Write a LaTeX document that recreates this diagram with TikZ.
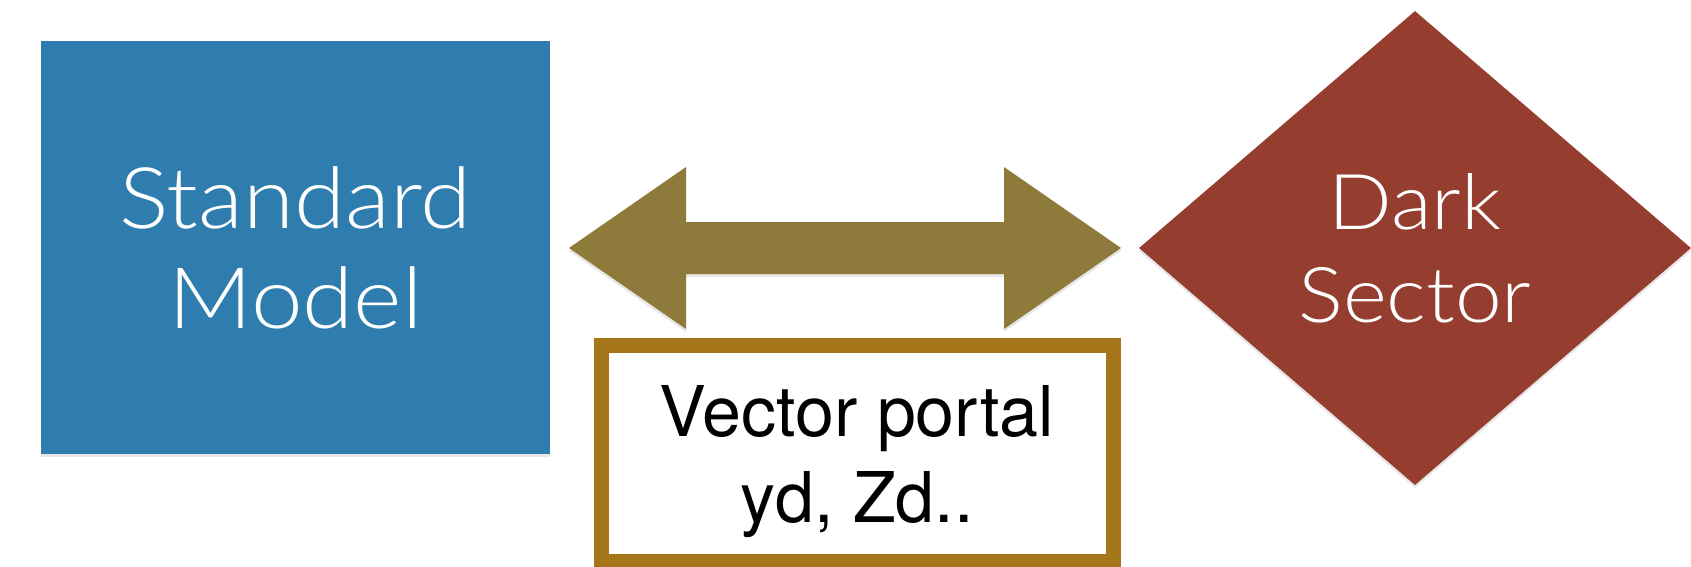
\documentclass[tikz,border=0pt]{standalone}
\usepackage{fontspec}
\setmainfont{TeX Gyre Heros}
\newfontfamily\lightfont{Lato Light}[FakeStretch=1.09]
\usetikzlibrary{shapes.geometric,shadows}
\definecolor{smblue}{RGB}{47,125,175}
\definecolor{arrowc}{RGB}{142,122,58}
\definecolor{boxc}{RGB}{165,117,26}
\definecolor{dsred}{RGB}{149,61,47}
\tikzset{
  shade/.style={drop shadow={opacity=0.2,shadow xshift=0pt,shadow yshift=-3pt}},
  sector/.style={text=white,inner sep=0pt,align=center,shade},
  smbox/.style={sector,fill=smblue,minimum width=509pt,minimum height=413pt,
    font=\lightfont\fontsize{85}{100}\selectfont},
  dsbox/.style={sector,diamond,fill=dsred,minimum width=552pt,minimum height=474pt,
    font=\lightfont\fontsize{77}{93}\selectfont},
  portal/.style={fill=arrowc,shade},
  vpbox/.style={draw=boxc,line width=15pt,fill=white,minimum width=512pt,minimum height=215.5pt,
    align=center,text depth=0pt,font=\fontsize{70}{86}\selectfont}
}
\begin{document}
\begin{tikzpicture}[x=1pt,y=-1pt]
\useasboundingbox (0,0) rectangle (1691,567);
\node[smbox] (sm) at (295.5,247.5) {Standard\\Model};
\node[dsbox] (ds) at (1415,248) {Dark\\Sector};
\coordinate (lt) at (569,248);
\coordinate (rt) at (1121,248);
\fill[portal] (lt) -- (686,167) -- (686,222) -- (1004,222) -- (1004,167) -- (rt)
  -- (1004,329) -- (1004,274) -- (686,274) -- (686,329) -- cycle;
\node[vpbox] (vp) at (857,453.7) {Vector portal\\yd, Zd..};
\end{tikzpicture}
\end{document}
